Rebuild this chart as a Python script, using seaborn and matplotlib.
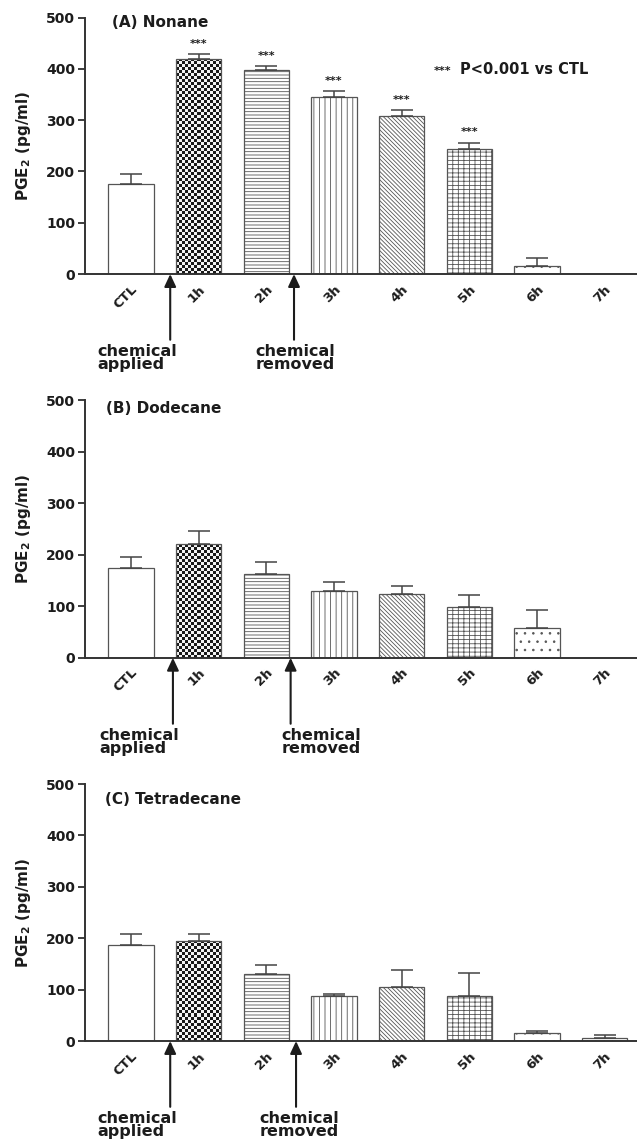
import numpy as np
import pandas as pd
import matplotlib
matplotlib.use("Agg")
import matplotlib.pyplot as plt
import seaborn as sns

times = ["CTL", "1h", "2h", "3h", "4h", "5h", "6h", "7h"]

nonane_mean = [175, 420, 398, 346, 308, 244, 15, 0]
nonane_sem = [20, 9, 7, 10, 12, 12, 16, 0]
dodecane_mean = [175, 220, 163, 130, 123, 99, 57, 0]
dodecane_sem = [20, 27, 22, 18, 16, 23, 36, 0]
tetradecane_mean = [187, 195, 131, 88, 106, 87, 15, 6]
tetradecane_sem = [21, 14, 17, 4, 33, 46, 5, 5]
nonane_sig = [False, True, True, True, True, True, False, False]

panel_titles = ["(A) Nonane", "(B) Dodecane", "(C) Tetradecane"]
hatches = [None, "checker", "-----", "|||", "\\" * 8, "+++-", "..", ".."]

sns.set_style("ticks")
plt.rcParams["font.family"] = ["DejaVu Sans"]
plt.rcParams["font.weight"] = "bold"
plt.rcParams["hatch.linewidth"] = 0.6
plt.rcParams["mathtext.default"] = "bf"

ink = "#1c1c1c"
edge = "#555555"


def checker_fill(ax, patch, cell_px=3.0):
    # dense checkerboard texture clipped to the bar
    x0, y0 = patch.get_x(), patch.get_y()
    w, h = patch.get_width(), patch.get_height()
    (px0, py0), (px1, py1) = ax.transData.transform([(x0, y0), (x0 + w, y0 + h)])
    nx = max(int(round((px1 - px0) / cell_px)), 1)
    ny = max(int(round((py1 - py0) / cell_px)), 1)
    grid = (np.indices((ny, nx)).sum(axis=0) % 2) * 0.85 + 0.1
    img = ax.imshow(grid, cmap="gray", vmin=0, vmax=1, extent=(x0, x0 + w, y0, y0 + h),
                    origin="lower", interpolation="nearest", aspect="auto",
                    zorder=patch.get_zorder() - 0.1)
    img.set_clip_path(patch)
    patch.set_facecolor("none")


fig = plt.figure(figsize=(6.37, 11.42), dpi=100)
rects = [[0.1334, 0.760, 0.8666, 0.2246],
         [0.1334, 0.424, 0.8666, 0.2256],
         [0.1334, 0.0884, 0.8666, 0.2250]]
means = [nonane_mean, dodecane_mean, tetradecane_mean]
sems = [nonane_sem, dodecane_sem, tetradecane_sem]
title_pos = [(-0.28, 490), (-0.37, 484), (-0.38, 471)]
applied_x = [0.58, 0.62, 0.58]
removed_x = [2.41, 2.36, 2.44]
applied_text_x = [-0.49, -0.46, -0.49]
removed_text_x = [1.84, 2.22, 1.90]

for i in range(3):
    ax = fig.add_axes(rects[i])
    df = pd.DataFrame({"time": times, "pge2": means[i]})
    sns.barplot(data=df, x="time", y="pge2", order=times, color="white",
                edgecolor=edge, linewidth=0.9, width=0.67, errorbar=None, ax=ax)
    ax.set_xlim(-0.68, 7.48)
    ax.set_ylim(0, 500)

    for patch, hatch in zip(ax.patches, hatches):
        patch.set_facecolor("white")
        if hatch == "checker":
            if patch.get_height() > 0:
                checker_fill(ax, patch)
        elif hatch:
            patch.set_hatch(hatch)

    x = np.arange(len(times))
    m = np.array(means[i], dtype=float)
    s = np.array(sems[i], dtype=float)
    keep = s > 0
    ax.errorbar(x[keep], m[keep], yerr=[np.zeros(keep.sum()), s[keep]], fmt="none",
                ecolor="#444444", elinewidth=1.1, capsize=8, capthick=1.1, zorder=3)

    if i == 0:
        for xi, (mv, sv, sig) in enumerate(zip(nonane_mean, nonane_sem, nonane_sig)):
            if sig:
                ax.text(xi, mv + sv + 20, "***", ha="center", va="center",
                        fontsize=8, color=ink)
        ax.text(4.47, 396, "***", ha="left", va="center", fontsize=8, color=ink)
        ax.text(4.87, 399, "P<0.001 vs CTL", ha="left", va="center",
                fontsize=10.5, fontweight="bold", color=ink)

    ax.text(title_pos[i][0], title_pos[i][1], panel_titles[i], ha="left", va="center",
            fontsize=11, fontweight="bold", color=ink)

    # treatment markers under the axis
    for ax_x in (applied_x[i], removed_x[i]):
        ax.annotate("", xy=(ax_x, 0), xytext=(ax_x, -128), annotation_clip=False,
                    arrowprops=dict(arrowstyle="-|>,head_length=0.75,head_width=0.35",
                                    lw=1.5, color=ink, shrinkA=0, shrinkB=0))
    ax.text(applied_text_x[i], -136, "chemical\napplied", ha="left", va="top",
            fontsize=11.5, fontweight="bold", color=ink, linespacing=0.82, clip_on=False)
    ax.text(removed_text_x[i], -136, "chemical\nremoved", ha="left", va="top",
            fontsize=11.5, fontweight="bold", color=ink, linespacing=0.82, clip_on=False)

    ax.set_yticks([0, 100, 200, 300, 400, 500])
    ax.set_xticks(x)
    ax.set_xticklabels(times, rotation=45, ha="right", va="top",
                       rotation_mode="anchor", fontsize=9.5, fontweight="bold", color=ink)
    ax.tick_params(axis="x", length=0, pad=6)
    ax.tick_params(axis="y", length=5, width=1.2, pad=2, labelsize=10,
                   colors=ink)
    for lab in ax.get_yticklabels():
        lab.set_fontweight("bold")
    ax.set_xlabel("")
    ax.set_ylabel("PGE$_2$ (pg/ml)", fontsize=11, fontweight="bold", color=ink)
    ax.yaxis.set_label_coords(-0.095, 0.5)
    sns.despine(ax=ax)
    for side in ("left", "bottom"):
        ax.spines[side].set_linewidth(1.4)
        ax.spines[side].set_color("#333333")

fig.savefig("out.png", dpi=100)
